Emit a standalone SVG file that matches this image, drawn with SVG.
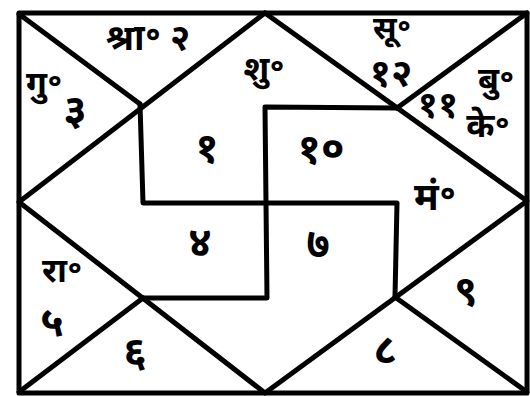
<svg xmlns="http://www.w3.org/2000/svg" width="530" height="397" viewBox="0 0 530 397">
<style>
.ln{fill:none;stroke:#000;stroke-width:5;stroke-linecap:round;stroke-linejoin:round}
.t{font-family:"Noto Sans","DejaVu Sans",sans-serif;font-weight:bold;fill:#000;text-anchor:middle}
.d{font-size:42px}
.p{font-size:34px}
</style>
<rect width="530" height="397" fill="#fff"/>
<g id="connectors">
<rect class="ln" x="19" y="13" width="508" height="380"/>
<polyline class="ln" points="265,13 527,201 265,393 19,202 265,13"/>
<line class="ln" x1="19" y1="14" x2="140" y2="104"/>
<line class="ln" x1="527" y1="13" x2="397" y2="108"/>
<line class="ln" x1="19" y1="392" x2="143" y2="298"/>
<line class="ln" x1="527" y1="392" x2="395" y2="297"/>
<polyline class="ln" points="140,104 143,203 397,203 395,297"/>
<polyline class="ln" points="397,108 265,107 267,298 143,298"/>
</g>
<g id="house2"><text class="t" x="148" y="50" font-size="36">श्रा॰ २</text></g>
<g id="house3"><text class="t p" x="44" y="95">गु॰</text><text class="t d" x="75" y="124">३</text></g>
<g id="house1"><text class="t p" x="264" y="80">शु॰</text><text class="t d" x="207" y="162">१</text></g>
<g id="house12"><text class="t" x="392" y="39" font-size="32">सू॰</text><text class="t" x="391" y="86" font-size="38">१२</text></g>
<g id="house11"><text class="t p" x="496" y="91">बु॰</text><text class="t" x="438" y="117" font-size="36">११</text><text class="t p" x="488" y="137">के॰</text></g>
<g id="house10"><text class="t d" x="321" y="163">१०</text><text class="t" x="435" y="210" font-size="38">मं॰</text></g>
<g id="house4"><text class="t d" x="200" y="256">४</text></g>
<g id="house7"><text class="t d" x="318" y="258">७</text></g>
<g id="house5"><text class="t p" x="62" y="282">रा॰</text><text class="t d" x="52" y="336">५</text></g>
<g id="house6"><text class="t d" x="135" y="366">६</text></g>
<g id="house8"><text class="t d" x="385" y="364">८</text></g>
<g id="house9"><text class="t d" x="466" y="305">९</text></g>
</svg>
